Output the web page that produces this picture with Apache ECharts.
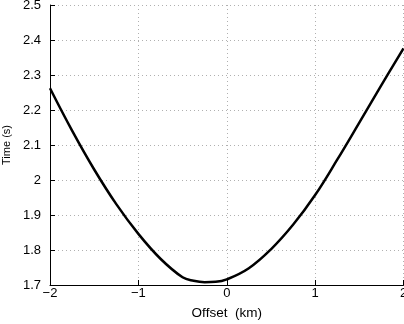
<!DOCTYPE html>
<html>
<head>
<meta charset="utf-8">
<script src="https://cdn.jsdelivr.net/npm/echarts@6/dist/echarts.min.js"></script>
<style>html,body{margin:0;padding:0;background:#fff}#c{width:404px;height:324px}</style>
</head>
<body>
<div id="c"></div>
<script>
const offsetKm = [-2, -1.75, -1.5, -1.25, -1, -0.75, -0.5, -0.375, -0.25, -0.125, 0, 0.25, 0.5, 0.75, 1, 1.25, 1.5, 1.75, 2];
const timeS    = [2.262, 2.141, 2.030, 1.931, 1.846, 1.775, 1.722, 1.712, 1.708, 1.709, 1.716, 1.748, 1.802, 1.872, 1.957, 2.058, 2.164, 2.271, 2.376];
const xTicks = [-2, -1, 0, 1, 2];
const yTicks = [1.7, 1.8, 1.9, 2, 2.1, 2.2, 2.3, 2.4, 2.5];
const xLabel = 'Offset  (km)';
const yLabel = 'Time (s)';

const chart = echarts.init(document.getElementById('c'), null, {renderer: 'canvas'});
const font = 'Liberation Sans, Arial, Helvetica, sans-serif';
const axisCommon = {
  axisLine: {show: true, onZero: false, lineStyle: {color: '#000', width: 1}},
  axisTick: {show: true, inside: true, length: 5, lineStyle: {color: '#000'}},
  splitLine: {show: true, lineStyle: {color: '#b0b0b0', type: [1, 3], width: 1}},
  axisLabel: {color: '#000', fontFamily: font, fontSize: 13}
};
chart.setOption({
  animation: false,
  backgroundColor: '#fff',
  grid: {left: 50, right: 0.5, top: 5, bottom: 39, containLabel: false, outerBoundsMode: 'none'},
  xAxis: Object.assign({}, axisCommon, {
    type: 'value', min: xTicks[0], max: xTicks[xTicks.length - 1], interval: 1,
    axisLabel: Object.assign({}, axisCommon.axisLabel, {margin: 2, showMaxLabel: true,
      formatter: v => (v < 0 ? '\u2212' + Math.abs(v) : String(v))}),
    name: xLabel, nameLocation: 'middle', nameGap: 21,
    nameTextStyle: {color: '#000', fontFamily: font, fontSize: 13.5}
  }),
  yAxis: Object.assign({}, axisCommon, {
    type: 'value', min: yTicks[0], max: yTicks[yTicks.length - 1], interval: 0.1,
    axisLabel: Object.assign({}, axisCommon.axisLabel, {margin: 9,
      formatter: v => String(Math.round(v * 10) / 10)}),
    name: yLabel, nameLocation: 'middle', nameGap: 27,
    nameTextStyle: {color: '#000', fontFamily: font, fontSize: 11}
  }),
  series: [{
    type: 'line',
    data: offsetKm.map((x, i) => [x, timeS[i]]),
    showSymbol: false,
    smooth: 0.4,
    lineStyle: {color: '#000', width: 2.5},
    clip: true
  }]
});
</script>
</body>
</html>
